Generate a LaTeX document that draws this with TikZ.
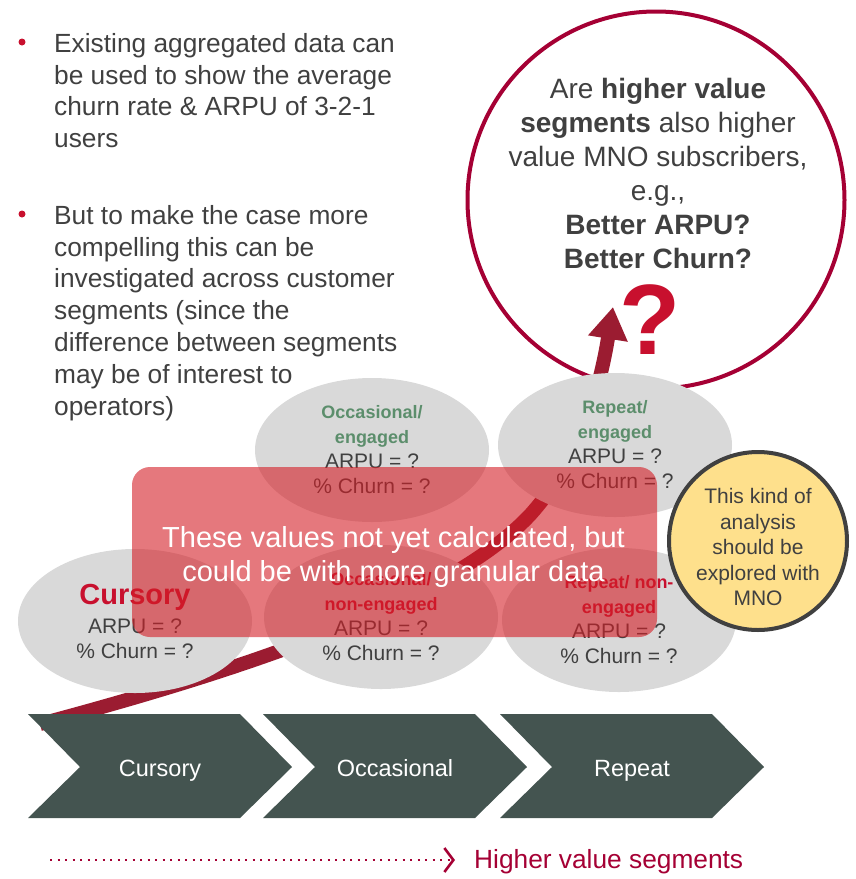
\documentclass[tikz,border=0pt]{standalone}
\usepackage{fontspec}
\setmainfont{Liberation Sans}
\definecolor{txtgray}{RGB}{64,64,64}
\definecolor{segred}{RGB}{200,16,46}
\definecolor{seggreen}{RGB}{92,142,108}
\definecolor{wine}{RGB}{165,0,52}
\definecolor{arrred}{RGB}{155,28,49}
\definecolor{chevgray}{RGB}{68,84,80}
\definecolor{ellgray}{RGB}{217,217,217}
\definecolor{mnoyellow}{RGB}{254,224,140}
\definecolor{veilred}{RGB}{212,30,38}
\usetikzlibrary{
	arrows.meta,
	positioning,
	shapes.geometric
}
\newcommand{\seglab}{\bfseries\fontsize{18}{25}\selectfont}
\tikzset{
  % arrow
	cstbigra/.style   ={-{Triangle[length=32pt,width=38pt]}, line width=14pt, arrred},
	cstdotra/.style   ={-{Straight Barb[length=9pt,width=24pt,line width=2.6pt]}, line width=2pt, wine, dash pattern=on 2pt off 5.5pt},
  % node
	cstbul/.style     ={anchor=north west, inner sep=0pt, align=left, text=txtgray, font=\fontsize{26.3}{31.8}\selectfont},
	cstbuldot/.style  ={circle, fill=segred, minimum size=7pt, inner sep=0pt},
	cstbig/.style     ={circle, draw=wine, line width=4pt, minimum size=377pt, inner sep=0pt},
	cstbigtxt/.style  ={inner sep=0pt, align=center, text=txtgray, font=\fontsize{28}{34}\selectfont},
	cstell/.style     ={ellipse, fill=ellgray, minimum width=234pt, minimum height=144pt, inner sep=0pt, align=center, text=txtgray, font=\fontsize{21}{25}\selectfont},
	cstveil/.style    ={rectangle, rounded corners=18pt, fill=veilred, fill opacity=0.6, minimum width=525pt, minimum height=170pt},
	cstveiltxt/.style ={inner sep=0pt, align=center, text=white, font=\fontsize{29}{34}\selectfont},
	cstmno/.style     ={circle, fill=mnoyellow, draw=txtgray, line width=4pt, minimum size=178pt, inner sep=0pt},
	cstmnotxt/.style  ={inner sep=0pt, align=center, text=txtgray, font=\fontsize{21}{25.5}\selectfont},
	cstchev/.style    ={fill=chevgray},
	cstchevtxt/.style ={anchor=base, inner sep=0pt, text=white, font=\fontsize{23.5}{28}\selectfont}
}
\begin{document}
\begin{tikzpicture}[x=1pt,y=-1pt]
	\useasboundingbox (0,0) rectangle (856,879);
	% question circle
	\node[cstbig] (bigc) at (656,200) {};
	\node[cstbigtxt] (ques) at (658,173) {Are \textbf{higher value}\\\textbf{segments} also higher\\value MNO subscribers,\\e.g.,\\\textbf{Better ARPU?}\\\textbf{Better Churn?}};
	\node[inner sep=0pt, text=segred, font=\bfseries\fontsize{100}{100}\selectfont] (qmark) at (650,320) {?};
	% growth arrow
	\coordinate (arrS) at (40,724);
	\coordinate (arrE) at (613,307);
	\draw[cstbigra] (arrS) .. controls (250,668) and (450,600) .. (530,515)
		.. controls (575,465) and (598,400) .. (arrE);
	% segments
	\node[cstell] (cur) at (135,621) {\textcolor{segred}{\bfseries\fontsize{29}{30}\selectfont Cursory}\\[4pt]ARPU = ?\\\% Churn = ?};
	\node[cstell] (occe) at (372,450) {\textcolor{seggreen}{\seglab Occasional/}\\\textcolor{seggreen}{\seglab engaged}\\ARPU = ?\\\% Churn = ?};
	\node[cstell] (occn) at (381,617) {\textcolor{segred}{\seglab Occasional/}\\\textcolor{segred}{\seglab non-engaged}\\ARPU = ?\\\% Churn = ?};
	\node[cstell] (repe) at (615,445) {\textcolor{seggreen}{\seglab Repeat/}\\\textcolor{seggreen}{\seglab engaged}\\ARPU = ?\\\% Churn = ?};
	\node[cstell] (repn) at (619,620) {\textcolor{segred}{\seglab Repeat/ non-}\\\textcolor{segred}{\seglab engaged}\\ARPU = ?\\\% Churn = ?};
	% overlay
	\node[cstveil] (veil) at (394.5,552) {};
	\node[cstveiltxt] (veiltxt) at ([xshift=-1pt,yshift=-5pt]veil.center) {These values not yet calculated, but\\could be with more granular data};
	\node[cstmno] (mno) at (758,541) {};
	\node[cstmnotxt] (mnotxt) at ([yshift=-6pt]mno.center) {This kind of\\analysis\\should be\\explored with\\MNO};
	% chevrons
	\foreach \x/\lab in {28/Cursory,263/Occasional,500/Repeat}{
		\fill[cstchev] (\x,714) -- ++(212,0) -- ++(52,53) -- ++(-52,51) -- ++(-212,0) -- ++(52,-51) -- cycle;
		\node[cstchevtxt] (chev\lab) at (\x+132,776) {\lab};
	}
	% value axis
	\node[anchor=base west, inner sep=0pt, text=wine, font=\fontsize{26.3}{30}\selectfont] (hv) at (474,868) {Higher value segments};
	\coordinate (dotS) at (50,860);
	\draw[cstdotra] (dotS) -- ([xshift=-19pt]dotS -| hv.west);
	% bullets
	\node[cstbuldot] (d1) at (22,42) {};
	\node[cstbul] (b1) at (54,33) {Existing aggregated data can\\be used to show the average\\churn rate \& ARPU of 3-2-1\\users};
	\node[cstbuldot] (d2) at (22,214) {};
	\node[cstbul] (b2) at (54,205) {But to make the case more\\compelling this can be\\investigated across customer\\segments (since the\\difference between segments\\may be of interest to\\operators)};
\end{tikzpicture}
\end{document}
